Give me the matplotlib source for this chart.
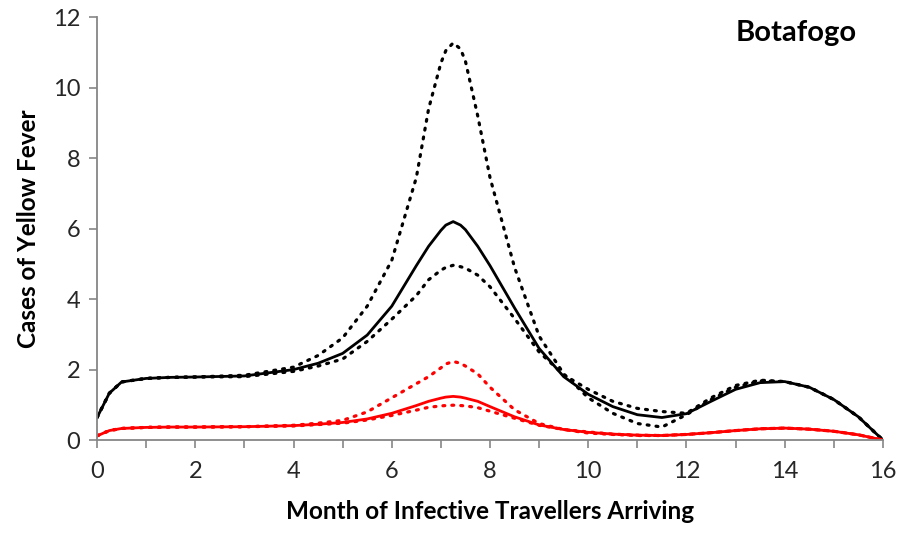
import matplotlib
matplotlib.use("Agg")
import matplotlib.pyplot as plt

x = [0, 0.25, 0.5, 1, 1.5, 2, 3, 4, 4.5, 5, 5.5, 6, 6.5, 6.75, 7, 7.1, 7.25, 7.4, 7.5, 7.75,
     8, 8.5, 9, 9.5, 10, 10.5, 11, 11.5, 12, 12.5, 13, 13.5, 14, 14.5, 15, 15.5, 16]

black_mid = [0.64, 1.33, 1.65, 1.75, 1.78, 1.79, 1.82, 2.0, 2.18, 2.46, 2.98, 3.8, 4.95, 5.5, 5.95, 6.1, 6.2, 6.1, 5.97, 5.5,
             4.95, 3.75, 2.6, 1.8, 1.3, 0.95, 0.72, 0.64, 0.75, 1.1, 1.44, 1.63, 1.66, 1.5, 1.15, 0.66, 0.0]
black_high = [0.64, 1.33, 1.65, 1.75, 1.78, 1.79, 1.84, 2.07, 2.4, 2.9, 3.8, 5.1, 7.45, 9.4, 10.7, 11.05, 11.27, 11.1, 10.75, 9.2,
              7.45, 4.9, 2.95, 1.88, 1.2, 0.76, 0.47, 0.37, 0.72, 1.15, 1.5, 1.68, 1.66, 1.5, 1.15, 0.66, 0.0]
black_low = [0.64, 1.33, 1.65, 1.75, 1.78, 1.79, 1.80, 1.95, 2.1, 2.3, 2.8, 3.43, 4.1, 4.55, 4.82, 4.9, 4.96, 4.92, 4.88, 4.68,
             4.35, 3.45, 2.5, 1.85, 1.44, 1.1, 0.9, 0.81, 0.76, 1.2, 1.55, 1.7, 1.66, 1.5, 1.15, 0.66, 0.0]

red_mid = [0.12, 0.27, 0.33, 0.36, 0.37, 0.37, 0.38, 0.41, 0.45, 0.5, 0.6, 0.76, 0.98, 1.1, 1.19, 1.22, 1.24, 1.22, 1.19, 1.1,
           0.95, 0.66, 0.43, 0.3, 0.22, 0.17, 0.14, 0.13, 0.16, 0.21, 0.27, 0.32, 0.34, 0.31, 0.25, 0.15, 0.0]
red_high = [0.12, 0.27, 0.33, 0.36, 0.37, 0.37, 0.38, 0.42, 0.48, 0.56, 0.8, 1.2, 1.6, 1.8, 2.05, 2.16, 2.23, 2.18, 2.1, 1.88,
            1.5, 0.86, 0.47, 0.3, 0.2, 0.16, 0.13, 0.13, 0.16, 0.21, 0.27, 0.32, 0.34, 0.31, 0.25, 0.15, 0.0]
red_low = [0.12, 0.27, 0.33, 0.36, 0.37, 0.37, 0.38, 0.40, 0.44, 0.48, 0.57, 0.7, 0.85, 0.93, 0.97, 0.98, 0.99, 0.98, 0.97, 0.92,
           0.82, 0.62, 0.42, 0.3, 0.23, 0.17, 0.14, 0.13, 0.16, 0.21, 0.27, 0.32, 0.34, 0.31, 0.25, 0.15, 0.0]

x_ticks = [0, 2, 4, 6, 8, 10, 12, 14, 16]
y_ticks = [0, 2, 4, 6, 8, 10, 12]
title = "Botafogo"
xlabel = "Month of Infective Travellers Arriving"
ylabel = "Cases of Yellow Fever"

plt.rcParams['font.family'] = ['Lato', 'DejaVu Sans']

fig = plt.figure(figsize=(9.07, 5.38), dpi=100)
ax = fig.add_axes([0.107, 0.182, 0.8665, 0.786])

dot = (0, (0.6, 2.2))
ax.plot(x, black_high, color='black', lw=2.3, linestyle=dot, dash_capstyle='round')
ax.plot(x, black_low, color='black', lw=2.3, linestyle=dot, dash_capstyle='round')
ax.plot(x, black_mid, color='black', lw=2.0, solid_capstyle='round', solid_joinstyle='round')
ax.plot(x, red_high, color='red', lw=2.3, linestyle=dot, dash_capstyle='round')
ax.plot(x, red_low, color='red', lw=2.3, linestyle=dot, dash_capstyle='round')
ax.plot(x, red_mid, color='red', lw=2.0, solid_capstyle='round', solid_joinstyle='round')

ax.set_xlim(0, 16)
ax.set_ylim(0, 12)
ax.set_xticks(x_ticks)
ax.set_xticks(range(0, 17), minor=True)
ax.set_yticks(y_ticks)
ax.tick_params(axis='both', which='both', direction='out', color='#868686', width=1.2,
               labelsize=17, labelcolor='#262626')
ax.tick_params(axis='x', which='both', length=6, pad=9)
ax.tick_params(axis='y', which='major', length=6, pad=6)
for side in ['top', 'right']:
    ax.spines[side].set_visible(False)
for side in ['left', 'bottom']:
    ax.spines[side].set_color('#868686')
    ax.spines[side].set_linewidth(1.3)

ax.set_xlabel(xlabel, fontsize=17.5, fontweight='bold', labelpad=13)
ax.set_ylabel(ylabel, fontsize=17.5, fontweight='bold', labelpad=9)
ax.text(0.89, 0.962, title, transform=ax.transAxes, ha='center', va='center',
        fontsize=21, fontweight='bold')

fig.savefig('out.png', dpi=100)
